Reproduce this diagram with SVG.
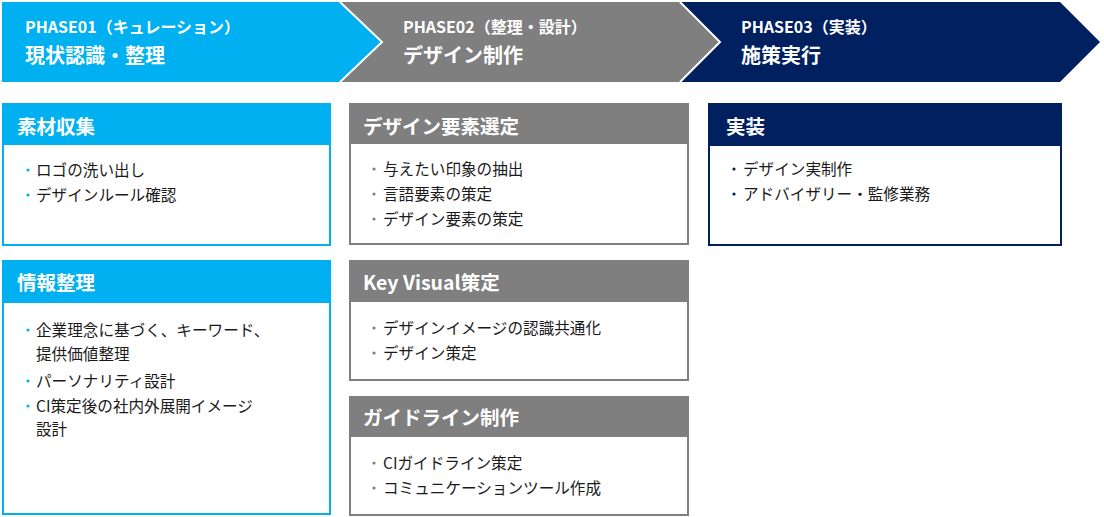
<svg xmlns="http://www.w3.org/2000/svg" width="1104" height="517" viewBox="0 0 1104 517">
<defs>
<style>
text{font-family:"Noto Sans CJK JP","Noto Sans",sans-serif;}
.ph{fill:#fff;font-size:16px;font-weight:bold;}
.pt{fill:#fff;font-size:20px;font-weight:bold;}
.ht{fill:#fff;font-size:19.5px;font-weight:bold;}
.it{fill:#1a1a1a;font-size:15.6px;}
.b1{fill:#00B0F0;} .b2{fill:#7F7F7F;} .b3{fill:#002060;}
.sep{fill:none;stroke:#fff;stroke-width:2;}
</style>
</defs>
<g id="phase1">
<polygon points="2,2 340,2 382,42 340,82 2,82" fill="#00B0F0"/>
<text class="ph" x="25" y="33">PHASE01（キュレーション）</text>
<text class="pt" x="25" y="63">現状認識・整理</text>
</g>
<g id="phase2">
<polygon points="340,2 680,2 720,42 680,82 340,82 382,42" fill="#7F7F7F"/>
<text class="ph" x="403" y="33">PHASE02（整理・設計）</text>
<text class="pt" x="403" y="63">デザイン制作</text>
</g>
<g id="phase3">
<polygon points="680,2 1060,2 1100,42 1060,82 680,82 720,42" fill="#002060"/>
<text class="ph" x="741" y="33">PHASE03（実装）</text>
<text class="pt" x="741" y="63">施策実行</text>
</g>
<g id="connectors">
<polyline class="sep" points="340,2 382,42 340,82"/>
<polyline class="sep" points="680,2 720,42 680,82"/>
</g>
<g id="box-sozai">
<rect x="3" y="104" width="327" height="141" fill="#fff" stroke="#00B0F0" stroke-width="2"/>
<rect x="2" y="103" width="329" height="42" fill="#00B0F0"/>
<text class="ht" x="17" y="134">素材収集</text>
<circle class="b1" cx="28" cy="170" r="1.6"/>
<text class="it" x="36" y="176">ロゴの洗い出し</text>
<circle class="b1" cx="28" cy="195" r="1.6"/>
<text class="it" x="36" y="201">デザインルール確認</text>
</g>
<g id="box-joho">
<rect x="3" y="261" width="327" height="253" fill="#fff" stroke="#00B0F0" stroke-width="2"/>
<rect x="2" y="260" width="329" height="43" fill="#00B0F0"/>
<text class="ht" x="17" y="290">情報整理</text>
<circle class="b1" cx="28" cy="330" r="1.6"/>
<text class="it" x="36" y="336">企業理念に基づく、キーワード、</text>
<text class="it" x="36" y="360">提供価値整理</text>
<circle class="b1" cx="28" cy="381" r="1.6"/>
<text class="it" x="36" y="387">パーソナリティ設計</text>
<circle class="b1" cx="28" cy="406" r="1.6"/>
<text class="it" x="36" y="412">CI策定後の社内外展開イメージ</text>
<text class="it" x="36" y="435">設計</text>
</g>
<g id="box-design">
<rect x="350" y="104" width="338" height="140" fill="#fff" stroke="#7F7F7F" stroke-width="2"/>
<rect x="349" y="103" width="340" height="41" fill="#7F7F7F"/>
<text class="ht" x="363" y="134">デザイン要素選定</text>
<circle class="b2" cx="374" cy="169" r="1.6"/>
<text class="it" x="383" y="175">与えたい印象の抽出</text>
<circle class="b2" cx="374" cy="194" r="1.6"/>
<text class="it" x="383" y="200">言語要素の策定</text>
<circle class="b2" cx="374" cy="219" r="1.6"/>
<text class="it" x="383" y="225">デザイン要素の策定</text>
</g>
<g id="box-kv">
<rect x="350" y="261" width="338" height="119" fill="#fff" stroke="#7F7F7F" stroke-width="2"/>
<rect x="349" y="260" width="340" height="42" fill="#7F7F7F"/>
<text class="ht" x="363" y="290">Key Visual策定</text>
<circle class="b2" cx="374" cy="328" r="1.6"/>
<text class="it" x="383" y="334">デザインイメージの認識共通化</text>
<circle class="b2" cx="374" cy="353" r="1.6"/>
<text class="it" x="383" y="359">デザイン策定</text>
</g>
<g id="box-guide">
<rect x="350" y="397" width="338" height="118" fill="#fff" stroke="#7F7F7F" stroke-width="2"/>
<rect x="349" y="396" width="340" height="41" fill="#7F7F7F"/>
<text class="ht" x="363" y="425">ガイドライン制作</text>
<circle class="b2" cx="374" cy="463" r="1.6"/>
<text class="it" x="383" y="469">CIガイドライン策定</text>
<circle class="b2" cx="374" cy="488" r="1.6"/>
<text class="it" x="383" y="494">コミュニケーションツール作成</text>
</g>
<g id="box-jisso">
<rect x="709" y="104" width="352" height="141" fill="#fff" stroke="#002060" stroke-width="2"/>
<rect x="708" y="103" width="354" height="43" fill="#002060"/>
<text class="ht" x="726" y="134">実装</text>
<circle class="b3" cx="734" cy="169" r="1.6"/>
<text class="it" x="743" y="175">デザイン実制作</text>
<circle class="b3" cx="734" cy="194" r="1.6"/>
<text class="it" x="743" y="200">アドバイザリー・監修業務</text>
</g>
</svg>
